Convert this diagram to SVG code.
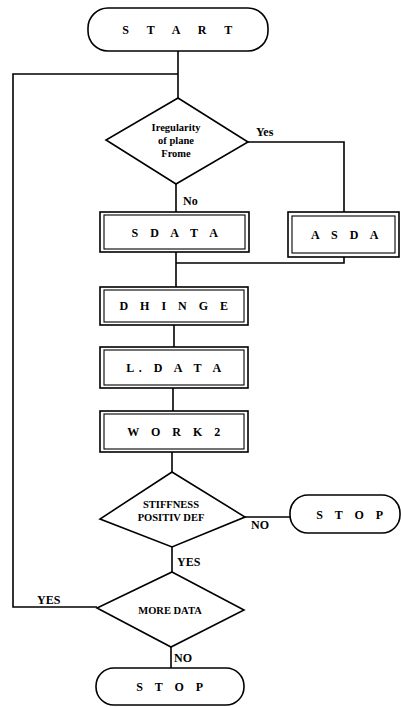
<svg xmlns="http://www.w3.org/2000/svg" width="401" height="707" viewBox="0 0 401 707">
<style>
.ln{fill:none;stroke:#000;stroke-width:1.6}
.sh{fill:#fff;stroke:#000;stroke-width:1.6}
.in{fill:none;stroke:#000;stroke-width:1.1}
.bt{font-family:"Liberation Serif",serif;font-size:12px;font-weight:bold;text-anchor:middle;fill:#000;letter-spacing:4.5px}
.tt{font-family:"Liberation Serif",serif;font-size:12px;font-weight:bold;text-anchor:middle;fill:#000;letter-spacing:7.5px}
.dt{font-family:"Liberation Serif",serif;font-size:10.5px;font-weight:bold;text-anchor:middle;fill:#000}
.lb{font-family:"Liberation Serif",serif;font-size:12px;font-weight:bold;fill:#000}
</style>
<rect width="401" height="707" fill="#fff"/>
<g id="connectors">
<path class="ln" d="M178 51 V98"/>
<path class="ln" d="M178 74 H13 V607 H97"/>
<path class="ln" d="M176 184 V212"/>
<path class="ln" d="M248 142 H344 V212"/>
<path class="ln" d="M176 252 V287"/>
<path class="ln" d="M344 257 V263 H176"/>
<path class="ln" d="M174 325 V347"/>
<path class="ln" d="M173 388 V411"/>
<path class="ln" d="M172 452 V472"/>
<path class="ln" d="M245 517 H290"/>
<path class="ln" d="M172 547 V572"/>
<path class="ln" d="M171 647 V668"/>
</g>
<g id="start">
<rect class="sh" x="88" y="8" width="180" height="43" rx="20" ry="20"/>
<text class="tt" x="181" y="34">S T A R T</text>
</g>
<g id="irregularity">
<polygon class="sh" points="178,98 248,142 176,184 106,140"/>
<text class="dt" x="176" y="131">Iregularity</text>
<text class="dt" x="176" y="144">of plane</text>
<text class="dt" x="176" y="157">Frome</text>
<text class="lb" x="256" y="136">Yes</text>
<text class="lb" x="183" y="205">No</text>
</g>
<g id="sdata">
<rect class="sh" x="100" y="212" width="149" height="40"/>
<rect class="in" x="104" y="215" width="141" height="34"/>
<text class="bt" x="177" y="237">S D A T A</text>
</g>
<g id="asda">
<rect class="sh" x="288" y="212" width="111" height="45"/>
<rect class="in" x="292" y="216" width="103" height="37"/>
<text class="bt" x="347" y="239">A S D A</text>
</g>
<g id="dhinge">
<rect class="sh" x="100" y="287" width="148" height="38"/>
<rect class="in" x="104" y="290" width="140" height="32"/>
<text class="bt" x="176" y="310">D H I N G E</text>
</g>
<g id="ldata">
<rect class="sh" x="100" y="347" width="148" height="41"/>
<rect class="in" x="104" y="350" width="140" height="35"/>
<text class="bt" x="176" y="372">L. D A T A</text>
</g>
<g id="work2">
<rect class="sh" x="100" y="411" width="148" height="41"/>
<rect class="in" x="104" y="414" width="140" height="35"/>
<text class="bt" x="176" y="436">W O R K 2</text>
</g>
<g id="stiffness">
<polygon class="sh" points="172,472 245,517 172,547 100,519"/>
<text class="dt" x="171" y="508">STIFFNESS</text>
<text class="dt" x="171" y="521">POSITIV DEF</text>
<text class="lb" x="251" y="529">NO</text>
<text class="lb" x="177" y="566">YES</text>
</g>
<g id="stop1">
<rect class="sh" x="290" y="495" width="110" height="38" rx="18" ry="18"/>
<text class="bt" x="352" y="519">S T O P</text>
</g>
<g id="moredata">
<polygon class="sh" points="172,572 244,610 171,647 97,608"/>
<text class="dt" x="170" y="614">MORE DATA</text>
<text class="lb" x="37" y="604">YES</text>
<text class="lb" x="174" y="662">NO</text>
</g>
<g id="stop2">
<rect class="sh" x="96" y="668" width="148" height="37" rx="18" ry="18"/>
<text class="bt" x="172" y="691">S T O P</text>
</g>
</svg>
